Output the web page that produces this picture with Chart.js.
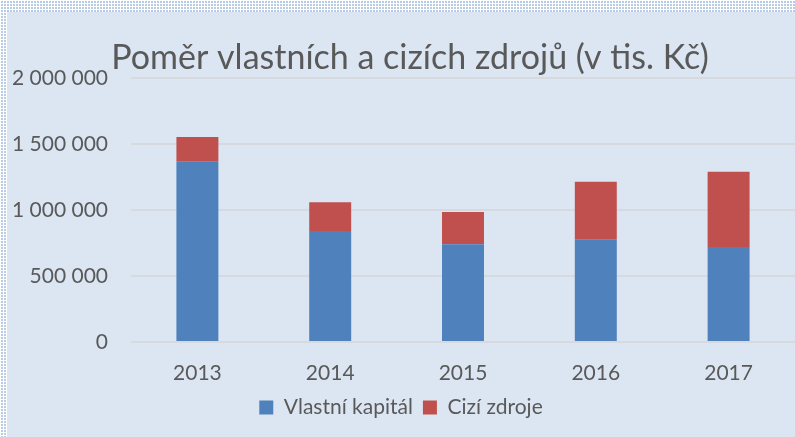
<!DOCTYPE html>
<html>
<head>
<meta charset="utf-8">
<script src="https://cdn.jsdelivr.net/npm/chart.js"></script>
<style>
html, body { margin: 0; padding: 0; }
body {
  width: 795px; height: 437px; overflow: hidden; position: relative;
  background-color: #b8cce6;
  background-image: linear-gradient(90deg, #ffffff 1px, transparent 1px), linear-gradient(#ffffff 1px, transparent 1px);
  background-size: 3px 3px;
}
#wrap { position: absolute; left: 7px; top: 12px; width: 788px; height: 425px; background: #dce6f2; }
</style>
</head>
<body>
<div id="wrap"><canvas id="chart"></canvas></div>
<script>
const roky = ['2013', '2014', '2015', '2016', '2017'];
const vlastniKapital = [1366000, 841000, 740000, 775000, 720000];
const ciziZdroje = [187000, 217000, 245000, 439000, 570000];
const nadpis = 'Poměr vlastních a cizích zdrojů (v tis. Kč)';

const textColor = '#595959';
const font = { family: 'Lato', size: 21 };

// title drawn by hand so it can sit over the top of the axis like in Excel
const titlePlugin = {
  id: 'nadpis',
  afterDraw(chart) {
    const ctx = chart.ctx;
    ctx.save();
    ctx.font = '34px Lato';
    ctx.fillStyle = textColor;
    ctx.textAlign = 'center';
    ctx.textBaseline = 'alphabetic';
    ctx.fillText(nadpis, 403, 57);
    ctx.restore();
  }
};

const data = {
  labels: roky,
  datasets: [{
    label: 'Vlastní kapitál',
    data: vlastniKapital,
    backgroundColor: '#4f81bd'
  }, {
    label: 'Cizí zdroje',
    data: ciziZdroje,
    backgroundColor: '#c0504d'
  }]
};

const config = {
  type: 'bar',
  data,
  options: {
    responsive: true,
    maintainAspectRatio: false,
    animation: false,
    datasets: {
      bar: { categoryPercentage: 1, barPercentage: 0.316 }
    },
    layout: { padding: { top: 66, right: 0, bottom: 9, left: 0 } },
    scales: {
      x: {
        stacked: true,
        grid: { display: false, drawTicks: false },
        border: { display: false },
        ticks: { color: textColor, font, padding: 19 },
        afterFit(scale) { scale.height = 45; }
      },
      y: {
        stacked: true,
        min: 0,
        max: 2000000,
        grid: { color: '#d6d9dd', lineWidth: 2, drawTicks: false },
        border: { display: false },
        ticks: {
          stepSize: 500000,
          color: textColor,
          font,
          padding: 23,
          callback: v => v.toString().replace(/\B(?=(\d{3})+(?!\d))/g, ' ')
        },
        afterFit(scale) { scale.width = 124; }
      }
    },
    plugins: {
      title: { display: false },
      tooltip: { enabled: false },
      legend: {
        position: 'bottom',
        labels: { boxWidth: 14, boxHeight: 14, padding: 10, color: textColor, font }
      }
    }
  },
  plugins: [titlePlugin]
};

var chart = new Chart(document.getElementById('chart'), config);
</script>
</body>
</html>
